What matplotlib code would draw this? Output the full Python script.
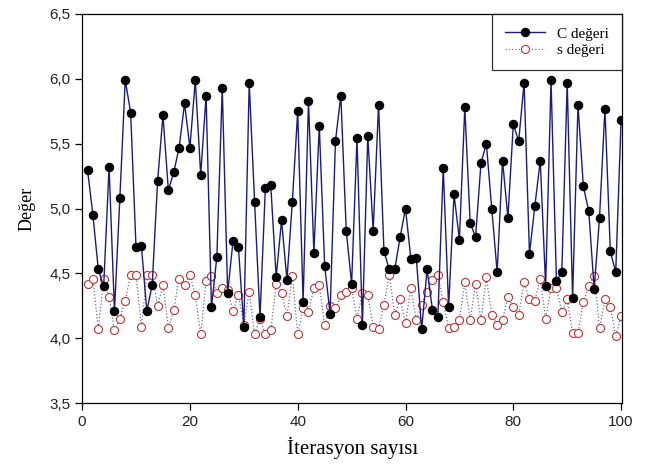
import numpy as np
import matplotlib
matplotlib.use("Agg")
import matplotlib.pyplot as plt

# values (iterations 1..100)
iterations = list(range(1, 101))

c_values = [
    5.30, 4.95, 4.53, 4.40, 5.32, 4.21, 5.08, 5.99, 5.74, 4.70,
    4.71, 4.21, 4.41, 5.21, 5.72, 5.14, 5.28, 5.47, 5.81, 5.47,
    5.99, 5.26, 5.87, 4.24, 4.63, 5.93, 4.35, 4.75, 4.70, 4.09,
    5.97, 5.05, 4.16, 5.16, 5.18, 4.47, 4.91, 4.45, 5.05, 5.75,
    4.28, 5.83, 4.66, 5.64, 4.56, 4.19, 5.52, 5.87, 4.83, 4.42,
    5.54, 4.10, 5.56, 4.83, 5.80, 4.67, 4.53, 4.53, 4.78, 5.00,
    4.61, 4.62, 4.07, 4.53, 4.22, 4.16, 5.31, 4.24, 5.11, 4.76,
    5.78, 4.89, 4.78, 5.35, 5.50, 5.00, 4.51, 5.37, 4.93, 5.65,
    5.52, 5.97, 4.65, 5.02, 5.37, 4.40, 5.99, 4.44, 4.51, 5.97,
    4.31, 5.80, 5.17, 4.98, 4.38, 4.93, 5.77, 4.67, 4.51, 5.68,
]

s_values = [
    4.42, 4.46, 4.07, 4.46, 4.32, 4.06, 4.15, 4.29, 4.49, 4.49,
    4.09, 4.49, 4.49, 4.25, 4.41, 4.08, 4.22, 4.46, 4.41, 4.49,
    4.33, 4.03, 4.44, 4.48, 4.35, 4.39, 4.37, 4.21, 4.33, 4.10,
    4.36, 4.03, 4.15, 4.03, 4.06, 4.42, 4.35, 4.17, 4.48, 4.03,
    4.23, 4.20, 4.39, 4.41, 4.10, 4.25, 4.23, 4.33, 4.36, 4.39,
    4.15, 4.35, 4.33, 4.09, 4.07, 4.26, 4.49, 4.18, 4.30, 4.12,
    4.39, 4.14, 4.26, 4.36, 4.45, 4.49, 4.28, 4.08, 4.09, 4.14,
    4.43, 4.14, 4.42, 4.14, 4.47, 4.18, 4.10, 4.14, 4.32, 4.24,
    4.18, 4.43, 4.30, 4.29, 4.46, 4.15, 4.39, 4.39, 4.20, 4.30,
    4.04, 4.04, 4.28, 4.40, 4.48, 4.08, 4.30, 4.24, 4.02, 4.17,
]

x_ticks = [0, 20, 40, 60, 80, 100]
y_ticks = [3.5, 4.0, 4.5, 5.0, 5.5, 6.0, 6.5]
y_tick_labels = ["3,5", "4,0", "4,5", "5,0", "5,5", "6,0", "6,5"]

serif = ["Liberation Serif", "DejaVu Serif"]
sans = ["Liberation Sans", "DejaVu Sans"]

fig = plt.figure(figsize=(6.57, 4.66), dpi=100)
ax = fig.add_axes([0.125, 0.135, 0.822, 0.835])

ax.plot(iterations, c_values, color="#1c1c78", lw=1.0,
        marker="o", markersize=5.8, markerfacecolor="black",
        markeredgecolor="black", label="C değeri", zorder=3)
ax.plot(iterations, s_values, color="#6a6aa0", lw=0.9, linestyle=":",
        marker="o", markersize=5.8, markerfacecolor="white",
        markeredgecolor="#b03a3a", markeredgewidth=0.8,
        label="s değeri", zorder=2)

ax.set_xlim(0, 100.2)
ax.set_ylim(3.5, 6.5)
ax.set_xticks(x_ticks)
ax.set_yticks(y_ticks)
ax.set_yticklabels(y_tick_labels)
ax.tick_params(direction="out", length=5, width=0.9, colors="black",
               labelcolor="#222222", labelsize=11, top=False, right=False)
for lab in ax.get_xticklabels() + ax.get_yticklabels():
    lab.set_family(sans)
for sp in ax.spines.values():
    sp.set_linewidth(0.9)

ax.set_xlabel("İterasyon sayısı", family=serif, fontsize=15, labelpad=6)
ax.set_ylabel("Değer", family=serif, fontsize=13, labelpad=10)

leg = ax.legend(loc="upper right", frameon=True, fancybox=False,
                edgecolor="black", borderaxespad=0, handlelength=2.6,
                borderpad=0.85, labelspacing=0.2,
                prop={"family": serif, "size": 11})
leg.get_frame().set_linewidth(0.9)

fig.savefig("out.png", dpi=100)
